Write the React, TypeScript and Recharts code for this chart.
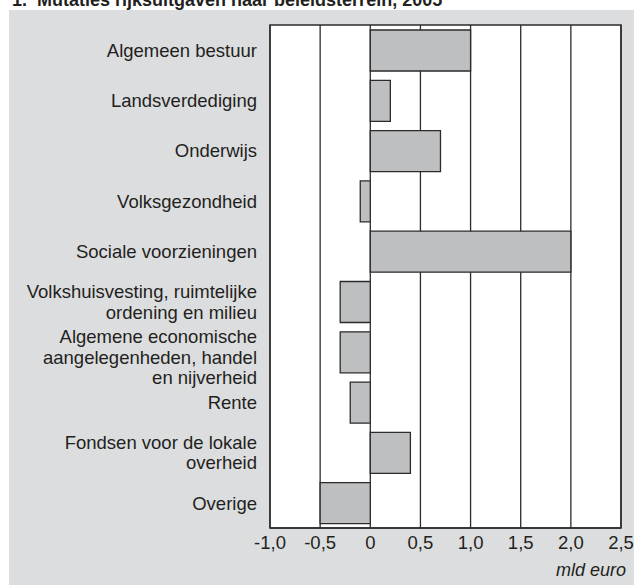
import { BarChart, Bar, XAxis, YAxis, CartesianGrid, ReferenceArea } from "recharts";

// ─── Data ────────────────────────────────────────────────────────────────────

const CATEGORIES = [
  "Algemeen bestuur",
  "Landsverdediging",
  "Onderwijs",
  "Volksgezondheid",
  "Sociale voorzieningen",
  "Volkshuisvesting, ruimtelijke\nordening en milieu",
  "Algemene economische\naangelegenheden, handel\nen nijverheid",
  "Rente",
  "Fondsen voor de lokale\noverheid",
  "Overige",
];

const MUTATIES = [1.0, 0.2, 0.7, -0.1, 2.0, -0.3, -0.3, -0.2, 0.4, -0.5];

const X_TICKS = [-1, -0.5, 0, 0.5, 1, 1.5, 2, 2.5];

const data = CATEGORIES.map((name, i) => ({ name, value: MUTATIES[i] }));

// ─── Helpers ─────────────────────────────────────────────────────────────────

const FONT = "'Liberation Sans', Arial, Helvetica, sans-serif";
const TEXT = "#231f20";
const LINE_H = 20.5;

function formatTick(v: number) {
  return v === 0 ? "0" : v.toFixed(1).replace(".", ",");
}

function CategoryTick({ x, y, payload }: { x?: number; y?: number; payload?: { value: string } }) {
  const lines = String(payload?.value ?? "").split("\n");
  // centre the block; the 3-line label sits a bit lower in the original
  const start = -((lines.length - 1) * LINE_H) / 2 + (lines.length > 2 ? 5 : 0);
  const tx = (x ?? 0) - 5;
  return (
    <text x={tx} y={y} textAnchor="end" fill={TEXT} fontSize={18.5} fontFamily={FONT}>
      {lines.map((l, i) => (
        <tspan key={i} x={tx} y={(y ?? 0) + start + i * LINE_H} dy="0.36em">
          {l}
        </tspan>
      ))}
    </text>
  );
}

// ─── Chart ───────────────────────────────────────────────────────────────────

export default function App() {
  return (
    <div
      style={{
        position: "absolute",
        left: 0,
        top: 0,
        width: 634,
        height: 586,
        overflow: "hidden",
        background: "#fff",
        fontFamily: FONT,
      }}
    >
      <div
        style={{
          position: "absolute",
          left: 12,
          top: -9,
          fontSize: 18,
          lineHeight: "18px",
          fontWeight: "bold",
          color: TEXT,
          whiteSpace: "pre",
        }}
      >
        {"1.  Mutaties rijksuitgaven naar beleidsterrein, 2005"}
      </div>
      <div
        style={{
          position: "absolute",
          left: 9,
          top: 10,
          width: 625,
          height: 575,
          background: "#dcdddf",
        }}
      />
      <div style={{ position: "absolute", left: 0, top: 0 }}>
        <BarChart
          width={634}
          height={586}
          data={data}
          layout="vertical"
          margin={{ top: 25, right: 13, bottom: 28, left: 0 }}
          barSize={41}
        >
          <CartesianGrid
            fill="#ffffff"
            stroke="#2b2b2b"
            strokeWidth={1.3}
            horizontal={false}
            vertical
          />
          <ReferenceArea x1={-1} x2={2.5} fill="none" stroke="#2b2b2b" strokeWidth={1.5} fillOpacity={0} />
          <XAxis
            type="number"
            domain={[-1, 2.5]}
            ticks={X_TICKS}
            tickFormatter={formatTick}
            axisLine={{ stroke: "#2b2b2b", strokeWidth: 1.5 }}
            tickLine={false}
            height={30}
            tick={{ fontSize: 18.5, fill: TEXT, fontFamily: FONT }}
          />
          <YAxis
            type="category"
            dataKey="name"
            width={270}
            axisLine={false}
            tickLine={false}
            interval={0}
            tick={<CategoryTick />}
          />
          <Bar
            dataKey="value"
            fill="#bebfc1"
            stroke="#2b2b2b"
            strokeWidth={1.3}
            isAnimationActive={false}
          />
        </BarChart>
      </div>
      <div
        style={{
          position: "absolute",
          right: 8,
          top: 560,
          fontSize: 18,
          fontStyle: "italic",
          color: TEXT,
        }}
      >
        mld euro
      </div>
    </div>
  );
}
